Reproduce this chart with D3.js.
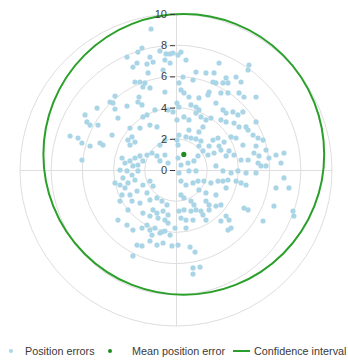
<!DOCTYPE html>
<html>
<head>
<meta charset="utf-8">
<script src="https://cdn.jsdelivr.net/npm/d3@7"></script>
<style>
  html, body { margin: 0; padding: 0; background: #fff; }
  svg { display: block; }
  text { font-family: "Liberation Sans", Arial, sans-serif; }
</style>
</head>
<body>
<svg id="chart" width="348" height="360"></svg>
<script>
// Position errors in metres, east (x) / north (y)
const errorPoints = [
  [-1.60,9.04],[-2.18,7.82],[-2.44,7.56],[-1.03,7.63],[-0.64,7.44],[-0.38,7.44],[-0.19,7.50],
  [-3.14,7.24],[-1.67,7.24],[-2.50,6.86],[-2.76,6.60],[-1.86,6.79],[-1.47,6.92],[-0.71,7.05],
  [-0.38,6.86],[-0.83,6.41],[-1.79,6.22],[-2.63,5.64],[-2.31,5.64],[-1.99,5.58],[-2.12,5.32],
  [-1.67,5.26],[-0.71,5.00],[-2.37,4.68],[-3.91,4.74],[-4.23,4.36],[-4.04,4.29],[-2.44,4.36],
  [-2.18,4.17],[-3.14,4.10],[-5.06,3.97],[-3.91,3.91],[-1.35,3.85],[-0.51,3.85],[-0.19,3.72],
  [-5.83,3.53],[-1.86,3.53],[-2.12,3.40],[-3.72,3.33],[-5.71,3.08],[-5.51,2.88],[-5.00,2.88],
  [-2.95,2.69],[-2.31,2.69],[-1.67,2.88],[-1.22,2.76],[-4.10,2.24],[-6.79,2.18],[-6.28,2.05],
  [-6.03,1.73],[-2.82,2.12],[-3.08,1.92],[-2.63,1.79],[-2.95,1.60],[-4.87,1.73],[-4.68,1.60],
  [-0.71,1.92],[-1.03,1.60],[-5.51,1.54],
  [0.32,7.56],[0.64,7.05],[0.13,7.37],[2.76,6.86],[4.68,6.73],[4.62,6.41],[1.28,6.28],
  [1.92,6.22],[2.44,6.22],[0.45,5.96],[0.19,5.58],[3.21,5.90],[3.01,5.58],[3.33,5.58],
  [3.85,5.96],[4.17,5.64],[1.09,5.77],[2.37,5.64],[2.56,5.58],[0.32,5.13],[0.51,4.94],
  [2.12,5.00],[2.05,4.81],[2.88,4.94],[3.33,4.94],[4.04,4.94],[4.36,4.68],[5.13,4.68],
  [0.83,4.68],[1.47,4.62],[0.96,4.17],[1.28,4.04],[1.47,3.85],[1.28,3.65],[2.56,4.29],
  [0.06,4.29],[0.19,4.04],[3.01,3.85],[3.21,3.65],[3.65,3.72],[3.97,3.53],[4.29,3.72],
  [0.51,3.40],[0.83,3.21],[1.60,3.40],[1.92,3.21],[2.24,3.33],[2.88,3.21],[3.21,3.08],
  [0.06,3.21],[3.72,3.01],[4.04,2.76],[4.49,2.76],[4.62,2.56],[5.13,3.08],[1.73,2.76],
  [1.47,2.44],[0.83,2.56],[0.19,2.24],[0.64,2.12],[0.96,2.05],[1.28,1.99],[1.60,1.86],
  [2.37,1.92],[2.69,2.05],[3.08,1.79],[3.53,2.12],[3.85,2.05],[4.94,2.24],[5.26,2.05],
  [5.58,1.92],[0.06,1.92],[0.13,1.60],[1.47,1.54],[2.12,1.54],[2.76,1.54],[4.29,1.60],
  [5.13,1.54],
  [-6.03,0.64],[-3.46,0.77],[-3.27,0.45],[-2.95,0.58],[-2.63,0.77],[-2.31,0.90],[-1.86,0.96],
  [-1.54,1.09],[-1.22,0.90],[-2.12,0.58],[-2.44,0.32],[-2.76,0.26],[-3.59,0.00],[-3.14,-0.06],
  [-2.82,-0.32],[-2.44,-0.06],[-2.63,-0.64],[-3.40,-0.51],[-3.91,-0.83],[-3.59,-0.96],
  [-3.27,-1.15],[-3.08,-0.83],[-3.46,-1.60],[-2.95,-1.60],[-2.50,-1.35],[-2.12,-0.96],
  [-1.67,-0.71],[-1.47,-1.03],[-1.86,-1.47],[-1.03,0.58],[-0.51,0.45],[-0.71,0.96],
  [-2.82,-1.99],[-2.31,-2.12],[-1.67,-1.92],[-1.22,-1.79],[-0.90,-1.99],[-0.58,-2.24],
  [-3.59,-1.99],[-3.08,-2.56],[-2.12,-2.76],[-1.47,-2.56],[-1.22,-2.76],[-0.83,-2.63],
  [-0.51,-2.88],[-1.67,-2.95],[-1.15,-3.08],[-0.71,-3.21],[-0.51,-3.40],[-3.72,-3.21],
  [-3.14,-3.53],[-2.76,-3.85],[-2.18,-3.72],[-1.86,-3.53],[-1.67,-3.85],[-1.35,-3.72],
  [-1.03,-4.04],[-0.71,-3.91],[-0.38,-4.17],[-0.06,-3.72],[-2.50,-4.81],[-2.18,-4.87],
  [-1.67,-4.55],[-1.22,-4.81],[-0.83,-4.68],[-0.26,-4.87],[-2.76,-5.51],
  [-1.54,-4.17],[-0.90,-3.97],[0.13,-4.81],[0.90,-4.94],[1.22,-5.26],[1.09,-6.28],
  [1.54,-6.22],[1.09,-6.67],
  [0.13,0.77],[0.32,0.32],[0.77,0.45],[1.15,0.58],[1.41,0.90],[1.73,1.22],[2.05,0.96],
  [2.44,1.09],[2.88,1.28],[3.21,0.90],[3.40,1.22],[3.72,0.96],[4.17,0.64],[4.62,0.64],
  [5.00,1.09],[5.32,0.90],[5.26,0.45],[5.77,1.28],[5.96,0.77],[6.41,0.96],[6.92,1.09],
  [6.73,0.45],[0.19,-0.19],[0.83,-0.06],[1.28,-0.06],[2.56,0.26],[3.01,-0.06],[3.53,-0.19],
  [3.97,-0.06],[4.49,-0.19],[5.13,-0.19],[5.45,0.26],[5.77,0.26],[6.92,-0.51],[7.24,-1.15],
  [0.32,-0.71],[0.64,-0.96],[1.09,-0.83],[1.41,-0.71],[1.79,-0.71],[2.24,-0.83],[2.69,-0.71],
  [3.01,-0.71],[3.33,-0.64],[3.85,-0.71],[4.17,-0.83],[4.49,-0.96],[1.47,-1.28],[1.92,-1.47],
  [3.21,-1.15],[2.56,-1.60],[6.41,-1.15],[6.28,-2.31],[0.32,-1.60],[0.51,-1.79],[0.96,-1.99],
  [1.15,-2.24],[1.92,-1.99],[2.12,-2.24],[2.56,-2.31],[2.88,-2.24],[0.19,-2.63],[0.51,-2.56],
  [0.96,-2.63],[1.28,-2.56],[1.60,-2.63],[2.12,-2.56],[4.36,-2.44],[4.62,-2.56],[7.50,-2.63],
  [7.56,-2.95],[0.32,-3.08],[0.64,-3.21],[1.09,-3.21],[1.73,-2.88],[1.92,-3.21],[3.21,-2.95],
  [3.40,-3.21],[2.88,-3.27],[3.33,-3.85],[3.53,-3.72],[5.58,-3.27],[0.64,-3.72]
];

// Mean of the errors and the radius of the confidence circle around it
const meanError = [0.5, 1.0];
const confidenceRadius = 9.0;

// Radial rings / tick labels
const radialTicks = [0, 2, 4, 6, 8, 10];
const maxRadius = 10;

const legendLabels = ["Position errors", "Mean position error", "Confidence interval"];

const colors = {
  point: "#a9d5e6",
  mean: "#1e8c1e",
  ring: "#2aa02a",
  grid: "#dedede",
  text: "#3a3a3a"
};

const svg = d3.select("#chart");
const cx = 176, cy = 170, R = 156;

const x = d3.scaleLinear().domain([-maxRadius, maxRadius]).range([cx - R, cx + R]);
const y = d3.scaleLinear().domain([-maxRadius, maxRadius]).range([cy + R, cy - R]);
const r = d3.scaleLinear().domain([0, maxRadius]).range([0, R]);

const grid = svg.append("g");
grid.selectAll("circle")
  .data(radialTicks.filter(d => d > 0))
  .join("circle")
  .attr("cx", x(0)).attr("cy", y(0))
  .attr("r", d => r(d))
  .attr("fill", "none")
  .attr("stroke", colors.grid)
  .attr("stroke-width", 1);

// Cross hair through the origin
grid.append("line")
  .attr("x1", x(-maxRadius)).attr("x2", x(maxRadius))
  .attr("y1", y(0) + 0.5).attr("y2", y(0) + 0.5)
  .attr("stroke", colors.grid);
grid.append("line")
  .attr("x1", x(0) + 0.5).attr("x2", x(0) + 0.5)
  .attr("y1", y(-maxRadius)).attr("y2", y(maxRadius))
  .attr("stroke", colors.grid);

// Error points
svg.append("g")
  .selectAll("circle")
  .data(errorPoints)
  .join("circle")
  .attr("cx", d => x(d[0]))
  .attr("cy", d => y(d[1]))
  .attr("r", 2.6)
  .attr("fill", colors.point);

// Confidence circle centred on the mean
svg.append("circle")
  .attr("cx", x(meanError[0]))
  .attr("cy", y(meanError[1]))
  .attr("r", r(confidenceRadius))
  .attr("fill", "none")
  .attr("stroke", colors.ring)
  .attr("stroke-width", 2);

svg.append("circle")
  .attr("cx", x(meanError[0]))
  .attr("cy", y(meanError[1]))
  .attr("r", 2.6)
  .attr("fill", colors.mean);

// Radial axis along the vertical line
const radialAxisScale = d3.scaleLinear().domain([0, maxRadius]).range([cy, cy - R]);
const axis = svg.append("g")
  .attr("transform", `translate(${cx - 1},0)`)
  .call(d3.axisLeft(radialAxisScale).tickValues(radialTicks).tickSize(5).tickPadding(3));
axis.select(".domain").remove();
axis.selectAll(".tick line").attr("stroke", colors.text);
axis.selectAll(".tick text")
  .attr("fill", colors.text)
  .style("font-size", "11px")
  .style("font-family", "'Liberation Sans', Arial, sans-serif");

// Legend
const ly = 351;
const legend = svg.append("g").style("font-size", "10.8px").attr("fill", colors.text);
legend.append("circle").attr("cx", 11).attr("cy", ly).attr("r", 2).attr("fill", colors.point);
legend.append("text").attr("x", 25).attr("y", ly).attr("dy", "0.35em").text(legendLabels[0]);
legend.append("circle").attr("cx", 110).attr("cy", ly).attr("r", 2).attr("fill", colors.mean);
legend.append("text").attr("x", 132).attr("y", ly).attr("dy", "0.35em").text(legendLabels[1]);
legend.append("line").attr("x1", 233).attr("x2", 250).attr("y1", ly).attr("y2", ly)
  .attr("stroke", colors.ring).attr("stroke-width", 2);
legend.append("text").attr("x", 254).attr("y", ly).attr("dy", "0.35em").text(legendLabels[2]);
</script>
</body>
</html>
